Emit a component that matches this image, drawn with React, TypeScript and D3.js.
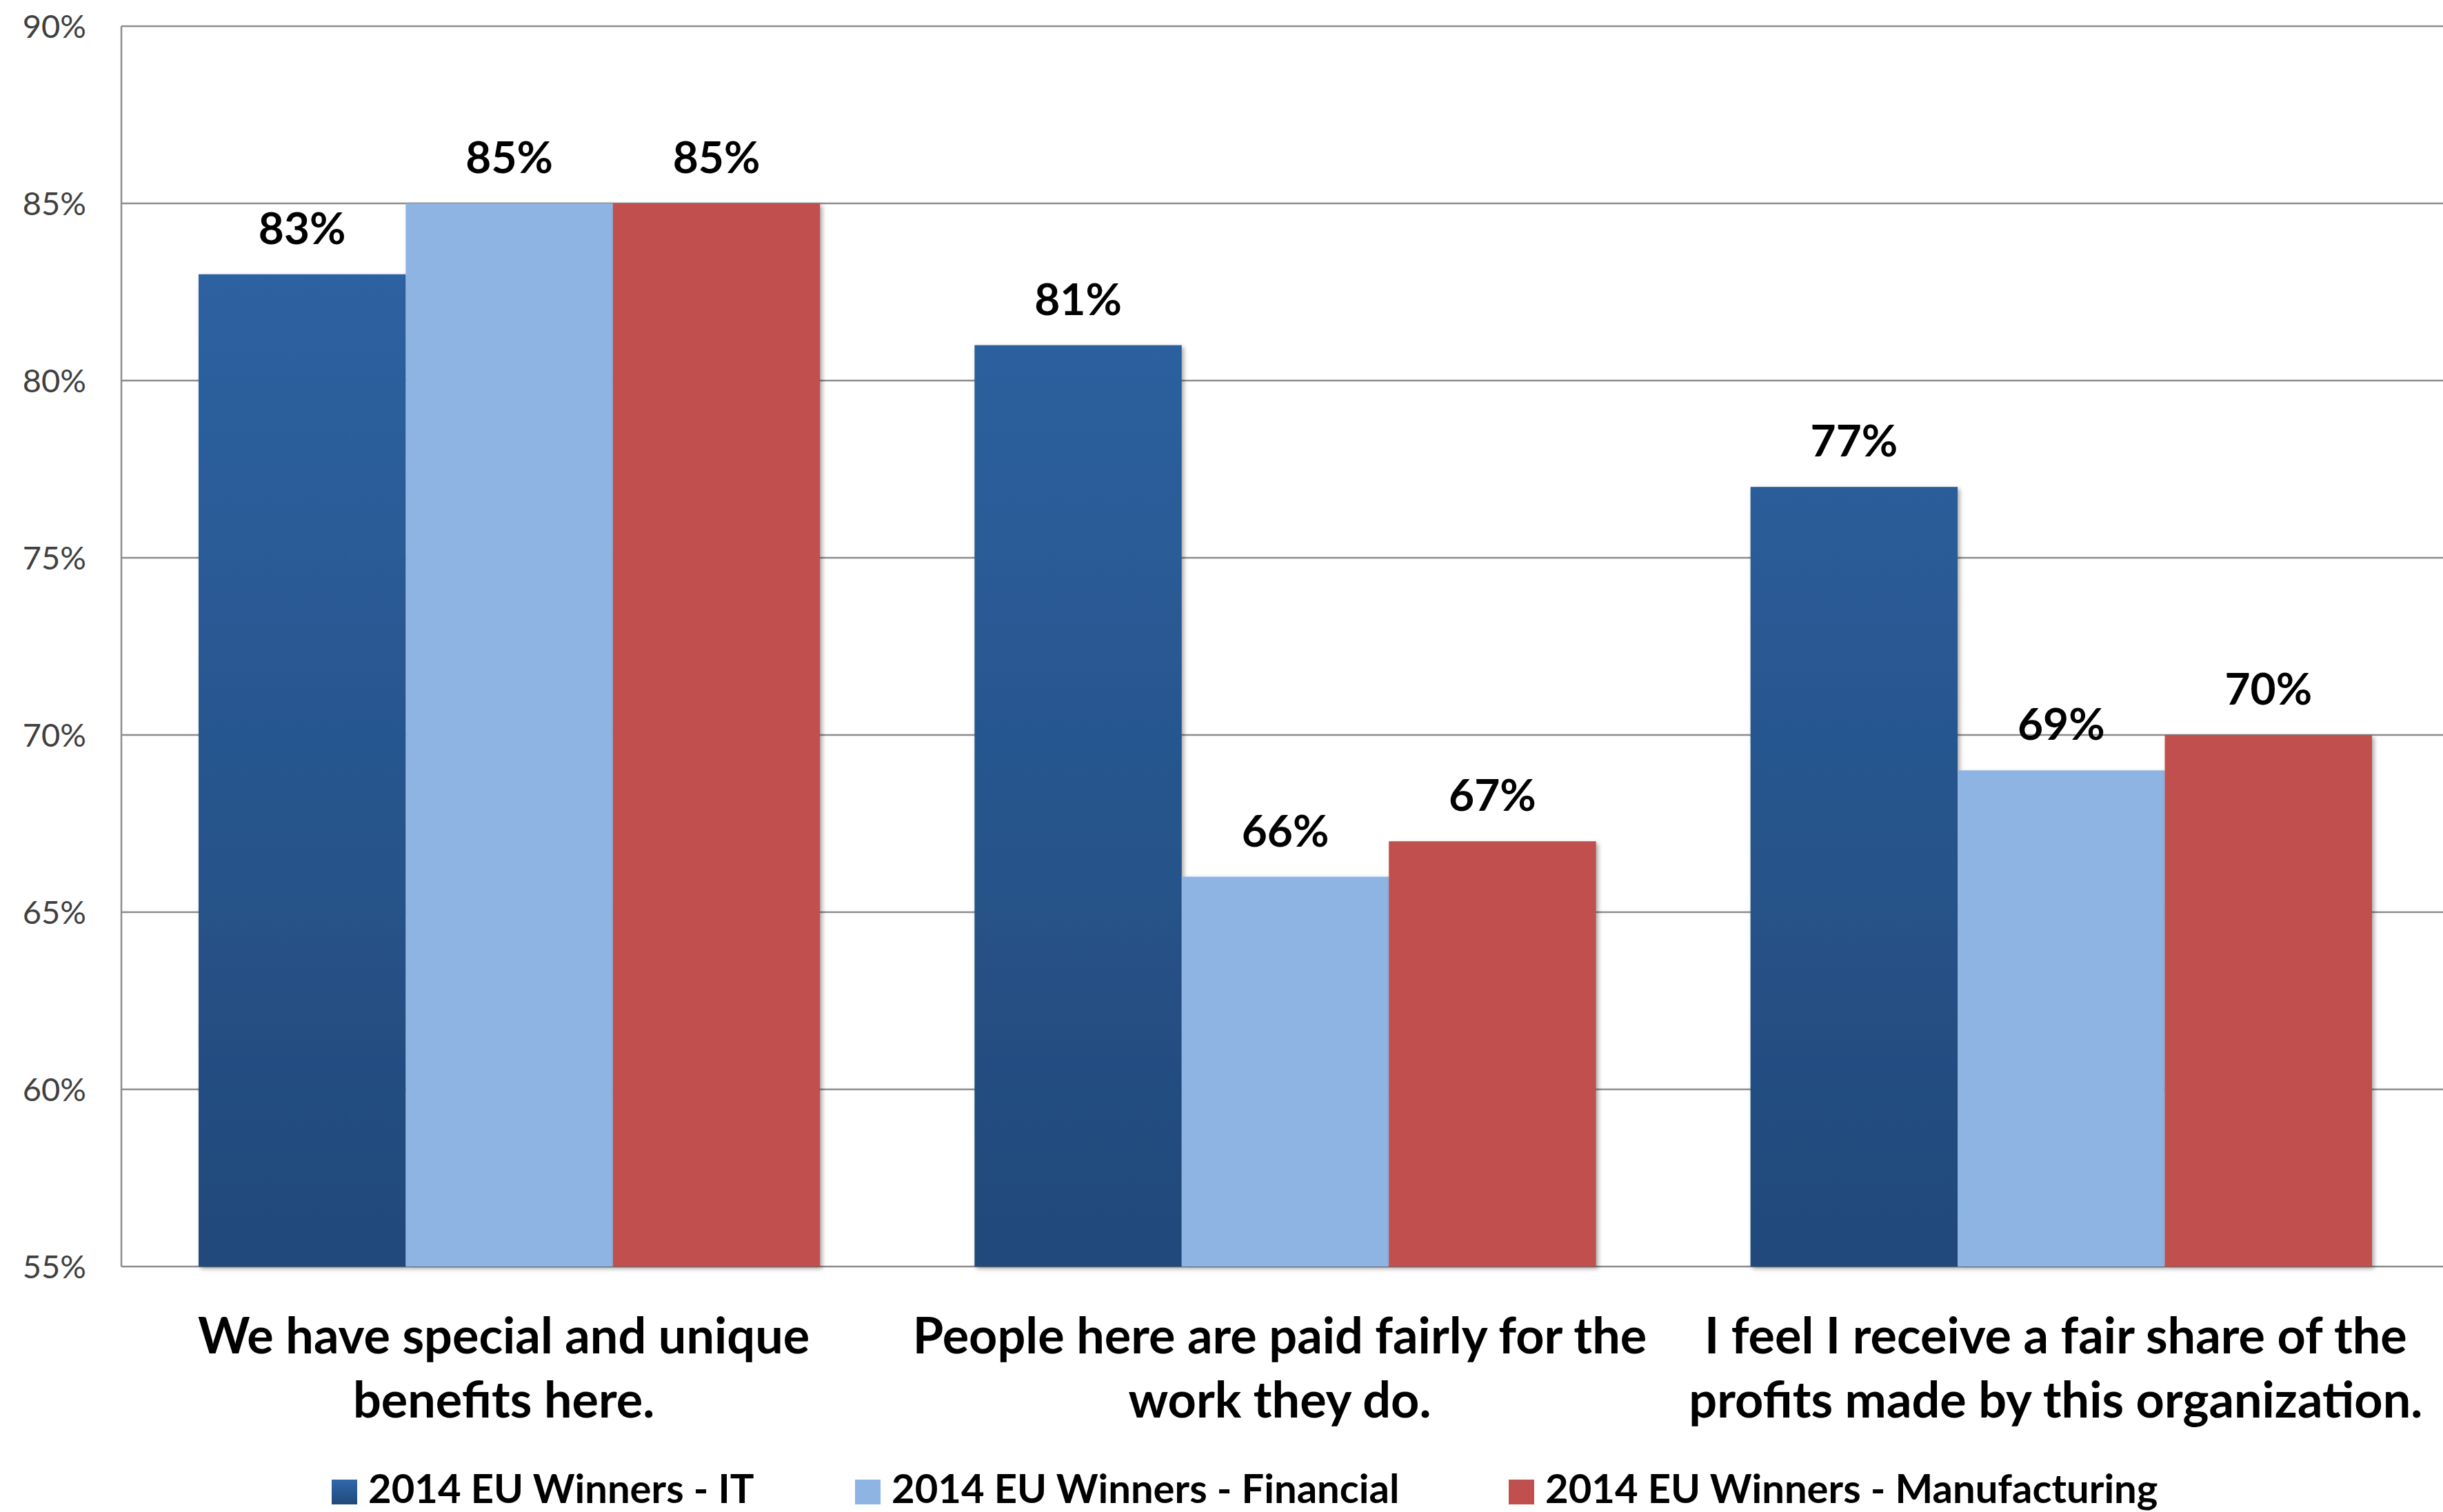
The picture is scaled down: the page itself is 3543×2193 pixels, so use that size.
import React from "react";
import * as d3 from "d3";

const categories: string[][] = [
  ["We have special and unique", "benefits here."],
  ["People here are paid fairly for the", "work they do."],
  ["I feel I receive a fair share of the", "profits made by this organization."],
];
const seriesNames = [
  "2014 EU Winners - IT",
  "2014 EU Winners - Financial",
  "2014 EU Winners - Manufacturing",
];
const itValues = [83, 81, 77];
const financialValues = [85, 66, 69];
const manufacturingValues = [85, 67, 70];
const yTicks = [55, 60, 65, 70, 75, 80, 85, 90];

const W = 3543;
const H = 2193;
const left = 176;
const right = 3552;
const top = 38;
const bottom = 1837;
const FONT = "Lato, 'Open Sans', sans-serif";

export default function App() {
  const series = [itValues, financialValues, manufacturingValues];
  const fills = ["url(#itGrad)", "#8EB4E3", "#C0504D"];
  const legendFills = ["url(#itGradL)", "#8EB4E3", "#C0504D"];
  const catIdx = categories.map((_, i) => String(i));
  const x0 = d3.scaleBand<string>().domain(catIdx).range([left, right]).padding(0);
  const inner = 112;
  const x1 = d3
    .scaleBand<string>()
    .domain(seriesNames)
    .range([inner, x0.bandwidth() - inner])
    .padding(0);
  const y = d3.scaleLinear().domain([55, 90]).range([bottom, top]);
  const fmt = (v: number) => `${v}%`;

  const legendX = [481, 1240, 2188];

  return (
    <svg
      width={W}
      height={H}
      style={{ position: "absolute", left: 0, top: 0, display: "block", background: "#fff" }}
    >
      <defs>
        <linearGradient id="itGrad" gradientUnits="userSpaceOnUse" x1="0" y1={top} x2="0" y2={bottom}>
          <stop offset="0%" stopColor="#3068AB" />
          <stop offset="100%" stopColor="#22497A" />
        </linearGradient>
        <linearGradient id="itGradL" x1="0" y1="0" x2="0" y2="1">
          <stop offset="0%" stopColor="#3068AB" />
          <stop offset="100%" stopColor="#22497A" />
        </linearGradient>
        <filter id="shadow" x="-10%" y="-10%" width="130%" height="130%">
          <feDropShadow dx="3" dy="3" stdDeviation="3" floodColor="#000" floodOpacity="0.35" />
        </filter>
      </defs>
      <rect x={0} y={0} width={W} height={H} fill="#fff" />
      {/* gridlines */}
      {yTicks.map((t) => (
        <line
          key={"g" + t}
          x1={left}
          x2={right}
          y1={y(t)}
          y2={y(t)}
          stroke="#8C8C8C"
          strokeWidth={2.5}
        />
      ))}
      <line x1={left} x2={left} y1={top} y2={bottom} stroke="#8C8C8C" strokeWidth={2.5} />
      {/* y tick labels */}
      {yTicks.map((t) => (
        <text
          key={"t" + t}
          x={125}
          y={y(t)}
          dy="0.36em"
          textAnchor="end"
          fontFamily={FONT}
          fontSize={47}
          fill="#404040"
        >
          {fmt(t)}
        </text>
      ))}
      {/* bars */}
      {categories.map((_, ci) => (
        <g key={"c" + ci} transform={`translate(${x0(String(ci))},0)`}>
          {series.map((vals, si) => (
            <rect
              key={"b" + si}
              x={x1(seriesNames[si])}
              y={y(vals[ci])}
              width={x1.bandwidth()}
              height={y(55) - y(vals[ci])}
              fill={fills[si]}
              filter="url(#shadow)"
            />
          ))}
          {series.map((vals, si) => (
            <text
              key={"l" + si}
              x={(x1(seriesNames[si]) as number) + x1.bandwidth() / 2}
              y={y(vals[ci]) - 44}
              textAnchor="middle"
              fontFamily={FONT}
              fontWeight={700}
              fontSize={64}
              fill="#000"
            >
              {fmt(vals[ci])}
            </text>
          ))}
        </g>
      ))}
      {/* category labels */}
      {categories.map((lines, ci) => (
        <text
          key={"cl" + ci}
          textAnchor="middle"
          fontFamily={FONT}
          fontWeight={700}
          fontSize={72}
          fill="#000"
        >
          {lines.map((ln, li) => (
            <tspan key={li} x={(x0(String(ci)) as number) + x0.bandwidth() / 2 - 8} y={1963 + li * 93}>
              {ln}
            </tspan>
          ))}
        </text>
      ))}
      {/* legend */}
      {seriesNames.map((name, si) => (
        <g key={"lg" + si}>
          <rect x={legendX[si]} y={2146} width={37} height={36} fill={legendFills[si]} />
          <text
            x={legendX[si] + 53}
            y={2180}
            fontFamily={FONT}
            fontWeight={700}
            fontSize={58}
            fill="#000"
          >
            {name}
          </text>
        </g>
      ))}
    </svg>
  );
}
